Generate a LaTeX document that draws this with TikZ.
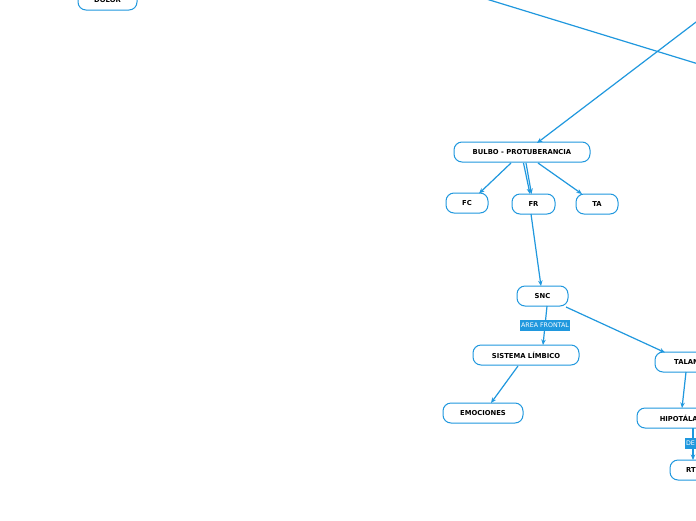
\documentclass[tikz,border=0pt]{standalone}
\usepackage{fontspec}
\setmainfont{DejaVu Sans}
\usetikzlibrary{arrows.meta}
\definecolor{mblue}{RGB}{32,152,222}
\begin{document}
\begin{tikzpicture}[x=1pt,y=-1pt,
  topic/.style={draw=mblue,line width=1pt,fill=white,rounded corners=8pt,
    minimum height=20pt,inner sep=1pt,font=\fontsize{6.8}{8}\selectfont\bfseries,text=black},
  link/.style={draw=mblue,line width=1.2pt,-{Stealth[length=5.5pt,width=4.5pt]}},
  plain/.style={draw=mblue,line width=1.2pt},
  tag/.style={fill=mblue,text=white,inner sep=1.5pt,minimum height=11pt,
    font=\fontsize{6.3}{7}\selectfont}]
\useasboundingbox (0,0) rectangle (696,520);
\clip (0,0) rectangle (696,520);
\fill[white] (0,0) rectangle (696,520);
% free ends outside the canvas
\coordinate (o1) at (470,-6);
\coordinate (o2) at (780,89);
\coordinate (o3) at (775,-38);
% nodes
\node[topic,minimum width=59pt] (dolor) at (107.5,0) {DOLOR};
\node[topic,minimum width=136pt] (bulbo) at (522,152) {BULBO - PROTUBERANCIA};
\node[topic,minimum width=42pt] (fc) at (467,203) {FC};
\node[topic,minimum width=43pt] (fr) at (533.5,204) {FR};
\node[topic,minimum width=42pt] (ta) at (597,204) {TA};
\node[topic,minimum width=51pt] (snc) at (542.5,296) {SNC};
\node[topic,minimum width=106pt] (sl) at (526,355) {SISTEMA LÍMBICO};
\node[topic,minimum width=80pt] (emo) at (483,413) {EMOCIONES};
\node[topic,minimum width=70pt] (tal) at (690,362) {TALAMO};
\node[topic,minimum width=96pt] (hipo) at (685,418) {HIPOTÁLAMO};
\node[topic,minimum width=42pt] (rt) at (691,470) {RT};
% connectors
\draw[plain] (o1) -- (o2);
\draw[link] (o3) -- (537,143);
\draw[link] (511,163) -- (479,193.5);
\draw[link] (523.5,163) -- (530,194);
\draw[link] (526,163) -- (531.5,194);
\draw[link] (538,163) -- (582,194);
\draw[link] (531,214) -- (541,286);
\draw[link] (547,306) -- (543,345) node[tag,pos=0.5] (af) {AREA FRONTAL};
\draw[link] (566,307) -- (665,352.5);
\draw[link] (518,366) -- (491,403);
\draw[link] (686,372) -- (682,408);
\draw[link] (693,428) -- (693,460) node[tag,pos=0.47,anchor=west,xshift=-9pt] (de) {DE};
\end{tikzpicture}
\end{document}
